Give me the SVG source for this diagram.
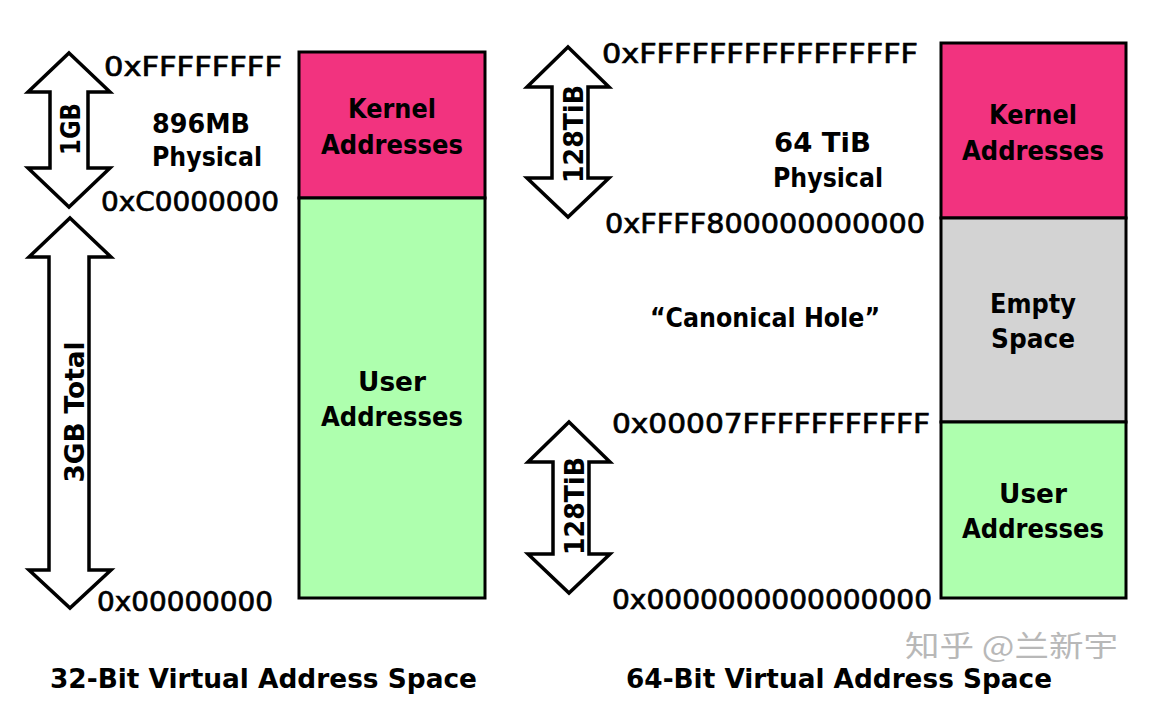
<svg xmlns="http://www.w3.org/2000/svg" width="1149" height="703" viewBox="0 0 1149 703">
<style>
text{font-family:"DejaVu Sans","Liberation Sans",sans-serif;fill:#000;font-size:27px}
.b{font-weight:bold}
.lbl{font-weight:bold;text-anchor:middle}
.addr{stroke:#000;stroke-width:0.7}
.box{stroke:#000;stroke-width:3}
.arr{fill:#fff;stroke:#000;stroke-width:3.5;stroke-linejoin:miter}
.wm{fill:#b8b8b8;font-family:"Noto Sans CJK SC",sans-serif;font-size:29px}
</style>
<rect width="1149" height="703" fill="#fff"/>
<g id="left-space">
  <g id="left-kernel">
    <rect class="box" x="299" y="52" width="186" height="146" fill="#F2337F"/>
    <text class="lbl" x="392" y="118" textLength="88" lengthAdjust="spacingAndGlyphs">Kernel</text>
    <text class="lbl" x="392" y="154" textLength="142" lengthAdjust="spacingAndGlyphs">Addresses</text>
  </g>
  <g id="left-user">
    <rect class="box" x="299" y="198" width="186" height="400" fill="#AEFFAE"/>
    <text class="lbl" x="392" y="391" textLength="68" lengthAdjust="spacingAndGlyphs">User</text>
    <text class="lbl" x="392" y="426" textLength="142" lengthAdjust="spacingAndGlyphs">Addresses</text>
  </g>
</g>
<g id="right-space">
  <g id="right-kernel">
    <rect class="box" x="941" y="43" width="185" height="175" fill="#F2337F"/>
    <text class="lbl" x="1033" y="124" textLength="88" lengthAdjust="spacingAndGlyphs">Kernel</text>
    <text class="lbl" x="1033" y="160" textLength="142" lengthAdjust="spacingAndGlyphs">Addresses</text>
  </g>
  <g id="right-empty">
    <rect class="box" x="941" y="218" width="185" height="204" fill="#D3D3D3"/>
    <text class="lbl" x="1033" y="313" textLength="86" lengthAdjust="spacingAndGlyphs">Empty</text>
    <text class="lbl" x="1033" y="348" textLength="84" lengthAdjust="spacingAndGlyphs">Space</text>
  </g>
  <g id="right-user">
    <rect class="box" x="941" y="422" width="185" height="176" fill="#AEFFAE"/>
    <text class="lbl" x="1033" y="503" textLength="68" lengthAdjust="spacingAndGlyphs">User</text>
    <text class="lbl" x="1033" y="538" textLength="142" lengthAdjust="spacingAndGlyphs">Addresses</text>
  </g>
</g>
<g id="connectors">
  <path id="arrow-1gb" class="arr" d="M69,53 L110,92 L88,92 L88,168 L110,168 L69,207 L28,168 L50,168 L50,92 L28,92 Z"/>
  <path id="arrow-3gb" class="arr" d="M70,218 L111,257 L89,257 L89,570 L111,570 L70,608 L29,570 L49,570 L49,257 L29,257 Z"/>
  <path id="arrow-128a" class="arr" d="M568,47 L609,87 L588,87 L588,178 L609,178 L568,217 L527,178 L552,178 L552,87 L527,87 Z"/>
  <path id="arrow-128b" class="arr" d="M569,422 L610,462 L589,462 L589,554 L610,554 L569,593 L528,554 L553,554 L553,462 L528,462 Z"/>
</g>
<g id="arrow-labels">
  <text class="b" transform="translate(80,129) rotate(-90)" text-anchor="middle" textLength="52" lengthAdjust="spacingAndGlyphs">1GB</text>
  <text class="b" transform="translate(84,412) rotate(-90)" text-anchor="middle" textLength="141" lengthAdjust="spacingAndGlyphs">3GB Total</text>
  <text class="b" transform="translate(583,134) rotate(-90)" text-anchor="middle" textLength="98" lengthAdjust="spacingAndGlyphs">128TiB</text>
  <text class="b" transform="translate(584,506) rotate(-90)" text-anchor="middle" textLength="98" lengthAdjust="spacingAndGlyphs">128TiB</text>
</g>
<g id="addresses">
  <text class="addr" x="104" y="76" textLength="178" lengthAdjust="spacingAndGlyphs">0xFFFFFFFF</text>
  <text class="addr" x="101" y="211" textLength="178" lengthAdjust="spacingAndGlyphs">0xC0000000</text>
  <text class="addr" x="97" y="611" textLength="176" lengthAdjust="spacingAndGlyphs">0x00000000</text>
  <text class="addr" x="602" y="63" textLength="316" lengthAdjust="spacingAndGlyphs">0xFFFFFFFFFFFFFFFF</text>
  <text class="addr" x="605" y="233" textLength="320" lengthAdjust="spacingAndGlyphs">0xFFFF800000000000</text>
  <text class="addr" x="612" y="433" textLength="318" lengthAdjust="spacingAndGlyphs">0x00007FFFFFFFFFFF</text>
  <text class="addr" x="612" y="609" textLength="320" lengthAdjust="spacingAndGlyphs">0x0000000000000000</text>
</g>
<g id="notes">
  <text class="b" x="152" y="133" textLength="98" lengthAdjust="spacingAndGlyphs">896MB</text>
  <text class="b" x="152" y="166" textLength="110" lengthAdjust="spacingAndGlyphs">Physical</text>
  <text class="b" x="774" y="152" textLength="97" lengthAdjust="spacingAndGlyphs">64 TiB</text>
  <text class="b" x="773" y="187" textLength="110" lengthAdjust="spacingAndGlyphs">Physical</text>
  <text class="b" x="650" y="327" textLength="230" lengthAdjust="spacingAndGlyphs">“Canonical Hole”</text>
</g>
<g id="titles">
  <text class="b" x="50" y="688" textLength="427" lengthAdjust="spacingAndGlyphs">32-Bit Virtual Address Space</text>
  <text class="b" x="626" y="688" textLength="426" lengthAdjust="spacingAndGlyphs">64-Bit Virtual Address Space</text>
</g>
<text class="wm" x="905" y="657" textLength="213" lengthAdjust="spacingAndGlyphs">知乎 @兰新宇</text>
</svg>
